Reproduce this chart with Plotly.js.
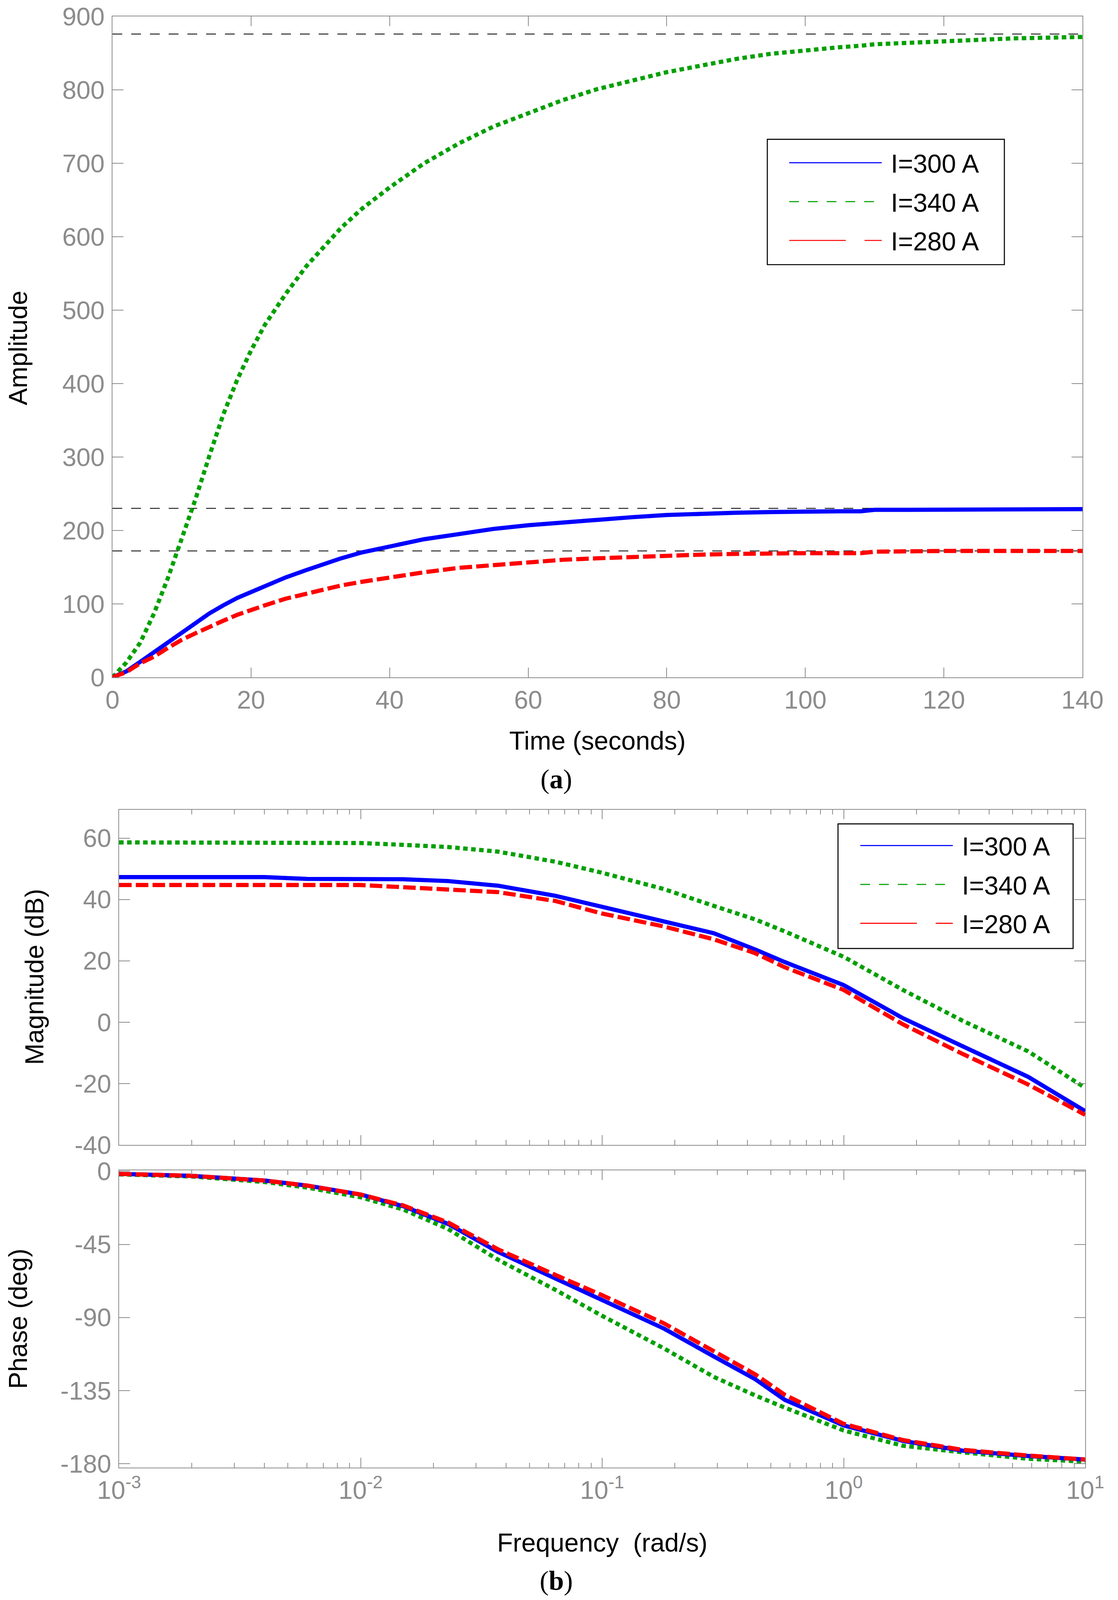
<!DOCTYPE html>
<html>
<head>
<meta charset="utf-8">
<script src="https://cdn.plot.ly/plotly-3.0.1.min.js"></script>
<style>
  html, body { margin: 0; padding: 0; background: #fff; overflow: hidden; }
</style>
</head>
<body>
<div id="fig"></div>
<script>
// ---- (a) step response ----
var stepTime = [0, 2, 4, 6, 8, 10, 12, 14, 16, 18, 20, 22, 25, 28, 30, 33, 36, 40, 45, 50, 55, 60, 65, 70, 75, 80, 85, 90, 95, 100, 105, 108, 110, 115, 120, 125, 130, 135, 140];
var step300 = [0, 8, 21, 34, 48, 61, 74, 87, 98, 108, 116, 124, 136, 146, 153, 162, 170, 178, 188, 195, 202, 207, 211, 215, 218, 221, 223, 224, 225, 226, 226, 226, 228, 228, 228, 228, 228, 228, 229];
var step340 = [0, 20, 47, 87, 135, 188, 243, 302, 358, 405, 445, 480, 522, 560, 580, 612, 638, 667, 700, 727, 750, 768, 786, 801, 813, 824, 833, 842, 849, 854, 858, 860, 862, 864, 866, 869, 870, 871, 872];
var step280 = [0, 7, 19, 28, 40, 51, 60, 69, 77, 85, 92, 98, 107, 114, 119, 125, 130, 136, 143, 149, 153, 157, 160, 162, 164, 166, 167, 168, 169, 169, 169, 169, 171, 172, 172, 172, 172, 172, 172];
var finalValues = [876, 230, 172];
var timeRange = [0, 140];
var timeTicks = [0, 20, 40, 60, 80, 100, 120, 140];
var ampTicks = [0, 100, 200, 300, 400, 500, 600, 700, 800, 900];

// ---- (b) Bode diagram ----
var freq = [0.001, 0.002, 0.004, 0.006, 0.01, 0.015, 0.023, 0.037, 0.064, 0.1, 0.18, 0.29, 0.43, 0.57, 1.0, 1.76, 3.1, 5.8, 10];
var mag300 = [47.3, 47.3, 47.3, 46.7, 46.7, 46.6, 46.0, 44.5, 41.2, 37.5, 32.9, 29.0, 23.7, 19.6, 12.1, 1.3, -7.8, -17.8, -29.0];
var mag340 = [58.6, 58.6, 58.6, 58.6, 58.4, 57.8, 57.1, 55.6, 52.3, 48.7, 43.4, 37.9, 33.5, 29.6, 21.3, 10.5, 0.5, -9.5, -21.4];
var mag280 = [44.7, 44.7, 44.7, 44.7, 44.7, 44.0, 43.2, 42.4, 39.5, 35.4, 31.2, 27.0, 22.5, 17.9, 10.5, -0.7, -10.3, -20.3, -30.2];
var ph300 = [-1.6, -2.8, -5.7, -8.8, -14.3, -21.5, -32.4, -49.6, -66, -79.5, -96.8, -114, -128, -140.7, -156.5, -166, -172, -175.3, -177.5];
var ph340 = [-1.9, -3.2, -6.6, -10, -16, -23.5, -35.5, -54.4, -73, -89, -109, -126.6, -138, -145.5, -159.6, -169, -173, -177, -178.8];
var ph280 = [-1.6, -2.8, -5.7, -8.8, -14.3, -21.0, -31.5, -48, -63.8, -76.3, -93.6, -111, -125, -137.6, -155.5, -165.5, -171.5, -175, -177.5];
var freqTicks = [0.001, 0.01, 0.1, 1, 10];
var freqTickText = ["10<sup>-3</sup>", "10<sup>-2</sup>", "10<sup>-1</sup>", "10<sup>0</sup>", "10<sup>1</sup>"];
var magTicks = [-40, -20, 0, 20, 40, 60];
var magTickText = ["-40", "-20", "0", "20", "40", "60"];
var phTicks = [-180, -135, -90, -45, 0];
var phTickText = ["-180", "-135", "-90", "-45", "0"];

var seriesNames = ["I=300 A", "I=340 A", "I=280 A"];
var seriesColors = ["#0000ff", "#00a000", "#ff0000"];

var FONT = "Liberation Sans, Arial, Helvetica, sans-serif";
var SERIF = "Liberation Serif, Times New Roman, serif";
var GREY = "#8c8c8c";

// the figure was laid out on a 2863 x 4595 page; fit it to whatever viewport we get
var W0 = 2863, H0 = 4595;
var W = window.innerWidth || W0, H = window.innerHeight || H0;
var sx = W / W0, sy = H / H0;
var div = document.getElementById("fig");
div.style.width = W + "px"; div.style.height = H + "px";
function px(v) { return v / W0; }            // page x -> paper fraction
function py(v) { return 1 - v / H0; }        // page y -> paper fraction
function dash(a, b, s) { return (a * s).toFixed(1) + "px," + (b * s).toFixed(1) + "px"; }

// thick plot strokes; the legend gets its own thin strokes like the original
var plotDash = ["solid", dash(13, 10, sy), dash(36, 12, sy)];
var legendDash = ["solid", dash(25, 23, sx), dash(145, 48, sx)];

function curve(x, y, i, xa, ya) {
  return {
    x: x, y: y, xaxis: xa, yaxis: ya, type: "scatter", mode: "lines",
    line: { color: seriesColors[i], width: 12 * sy, dash: plotDash[i] },
    name: seriesNames[i], showlegend: false, hoverinfo: "skip"
  };
}
function legendEntry(i, xa, ya, leg) {
  return {
    x: [null], y: [null], xaxis: xa, yaxis: ya, type: "scatter", mode: "lines",
    line: { color: seriesColors[i], width: 3 * sy, dash: legendDash[i] },
    name: "\u00a0" + seriesNames[i], legend: leg, legendgroup: leg + i, showlegend: true
  };
}

var traces = [
  curve(stepTime, step340, 1, "x", "y"),
  curve(stepTime, step300, 0, "x", "y"),
  curve(stepTime, step280, 2, "x", "y"),
  curve(freq, mag340, 1, "x2", "y2"),
  curve(freq, mag300, 0, "x2", "y2"),
  curve(freq, mag280, 2, "x2", "y2"),
  curve(freq, ph340, 1, "x3", "y3"),
  curve(freq, ph300, 0, "x3", "y3"),
  curve(freq, ph280, 2, "x3", "y3")
];
[0, 1, 2].forEach(function (i) { traces.push(legendEntry(i, "x", "y", "legend")); });
[0, 1, 2].forEach(function (i) { traces.push(legendEntry(i, "x2", "y2", "legend2")); });

function axis(letter, extra) {
  return Object.assign({
    showline: true, linecolor: GREY, linewidth: 2, mirror: "ticks",
    ticks: "inside", ticklen: letter === "x" ? 28 * sy : 28 * sx, tickwidth: 2, tickcolor: GREY,
    ticklabelstandoff: letter === "x" ? 0 : 5 * sx,
    showgrid: false, zeroline: false, automargin: false, fixedrange: true,
    tickfont: { family: FONT, size: 73 * sy, color: GREY }
  }, extra);
}
var logMinor = { ticks: "inside", ticklen: 14 * sy, tickwidth: 2, tickcolor: GREY, dtick: "D1", showgrid: false };

function legendBox(x, y) {
  return {
    x: x, y: y, xanchor: "left", yanchor: "top", bgcolor: "rgba(0,0,0,0)",
    borderwidth: 0, itemwidth: 237 * sx, tracegroupgap: 12 * sy,
    traceorder: "grouped", font: { family: FONT, size: 74 * sy, color: "#000" }
  };
}
// legend frames (the original frame is wider than Plotly's own legend box)
function frame(l, t, r, b) {
  return { type: "rect", xref: "paper", yref: "paper", layer: "above",
    x0: px(l), x1: px(r), y0: py(b), y1: py(t),
    line: { color: "#000", width: 3 * sy }, fillcolor: "#fff" };
}
function label(text, x, y, angle, font) {
  return { text: text, xref: "paper", yref: "paper", x: px(x), y: py(y),
    xanchor: "center", yanchor: "middle", textangle: angle || 0, showarrow: false,
    font: Object.assign({ family: FONT, size: 74 * sy, color: "#000" }, font || {}) };
}

var shapes = finalValues.map(function (v) {
  return { type: "line", xref: "x", yref: "y", layer: "below",
    x0: timeRange[0], x1: timeRange[1], y0: v, y1: v,
    line: { color: "#111", width: 2.5 * sy, dash: dash(25, 23, sx) } };
});
shapes.push(frame(1965, 400, 2572, 760));
shapes.push(frame(2146, 2366, 2748, 2724));

var layout = {
  width: W, height: H, paper_bgcolor: "#fff", plot_bgcolor: "#fff",
  margin: { l: 0, r: 0, t: 0, b: 0 }, showlegend: true,
  xaxis: axis("x", { domain: [px(288), px(2772)], range: timeRange, tickvals: timeTicks, anchor: "y" }),
  yaxis: axis("y", { domain: [py(1945), py(47)], range: [0, 900], tickvals: ampTicks, anchor: "x" }),
  xaxis2: axis("x", { domain: [px(305), px(2779)], type: "log", range: [-3, 1], tickvals: freqTicks,
    ticktext: freqTickText, showticklabels: false, anchor: "y2", matches: "x3", minor: logMinor }),
  yaxis2: axis("y", { domain: [py(3288), py(2325)], range: [-40, 69.3], tickvals: magTicks,
    ticktext: magTickText, anchor: "x2" }),
  xaxis3: axis("x", { domain: [px(305), px(2779)], type: "log", range: [-3, 1], tickvals: freqTicks,
    ticktext: freqTickText, anchor: "y3", minor: logMinor, ticklabelstandoff: 26 * sy }),
  yaxis3: axis("y", { domain: [py(4215), py(3361)], range: [-182.5, 0.6], tickvals: phTicks,
    ticktext: phTickText, anchor: "x3" }),
  legend: legendBox(px(2016), py(412)),
  legend2: legendBox(px(2198), py(2373)),
  shapes: shapes,
  annotations: [
    label("Time (seconds)", 1530, 2127),
    label("Amplitude", 46, 1000, -90),
    label("Magnitude (dB)", 88, 2806, -90),
    label("Phase (deg)", 46, 3788, -90),
    label("Frequency &nbsp;(rad/s)", 1542, 4430),
    label("(<b>a</b>)", 1424, 2237, 0, { family: SERIF, size: 78 * sy }),
    label("(<b>b</b>)", 1424, 4539, 0, { family: SERIF, size: 78 * sy })
  ]
};

Plotly.newPlot(div, traces, layout, { displayModeBar: false, staticPlot: true });
</script>
</body>
</html>
